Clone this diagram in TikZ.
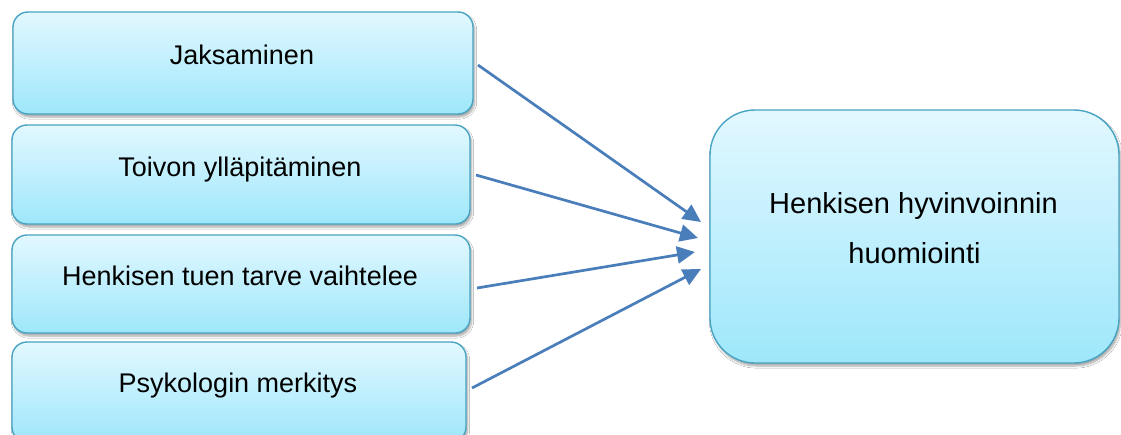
\documentclass[tikz,border=0pt]{standalone}
\usepackage{fontspec}
\setmainfont{Liberation Sans}
\usetikzlibrary{arrows.meta,calc,shadows.blur}
\definecolor{boxtop}{RGB}{226,248,255}
\definecolor{boxbot}{RGB}{158,231,251}
\definecolor{boxline}{RGB}{72,164,194}
\definecolor{arrowblue}{RGB}{74,126,187}
\tikzset{
  box/.style={draw=boxline, line width=1.4pt, top color=boxtop, bottom color=boxbot,
    inner sep=0pt, outer sep=0pt,
    blur shadow={shadow xshift=1.5pt, shadow yshift=-3pt, shadow blur steps=6, shadow opacity=35}},
  leftbox/.style={box, rounded corners=15pt},
  rightbox/.style={box, rounded corners=45pt},
  ltext/.style={anchor=base, inner sep=0pt, font=\fontsize{27}{31}\selectfont},
  rtext/.style={anchor=base, inner sep=0pt, font=\fontsize{29}{33}\selectfont},
  conn/.style={draw=arrowblue, line width=2.7pt, -{Triangle[length=18pt,width=17pt]}}
}
\begin{document}
\begin{tikzpicture}[x=1pt,y=-1pt]
\path[use as bounding box] (0,0) rectangle (1121,434);
\clip (0,0) rectangle (1121,434);
\fill[white] (0,0) rectangle (1121,434);
% left boxes
\node[leftbox, minimum width=460pt, minimum height=102pt] (b1) at (243,63) {};
\node[leftbox, minimum width=458pt, minimum height=99pt] (b2) at (241,174.5) {};
\node[leftbox, minimum width=458pt, minimum height=98pt] (b3) at (241,284) {};
\node[leftbox, minimum width=454pt, minimum height=100pt] (b4) at (239,392) {};
% right box
\node[rightbox, minimum width=409pt, minimum height=253pt] (r) at (914.5,236.5) {};
% texts
\node[ltext] (t1) at ($(b1.center)+(-1,1)$) {Jaksaminen};
\node[ltext] (t2) at ($(b2.center)+(-1,1.5)$) {Toivon ylläpitäminen};
\node[ltext] (t3) at ($(b3.center)+(-1,1)$) {Henkisen tuen tarve vaihtelee};
\node[ltext] (t4) at ($(b4.center)+(-1,0)$) {Psykologin merkitys};
\node[rtext] (rt1) at ($(r.center)+(-1,-23.5)$) {Henkisen hyvinvoinnin};
\node[rtext] (rt2) at ($(r.center)+(0,26.5)$) {huomiointi};
% connectors
\coordinate (s1) at ($(b1.east)+(5,2)$);
\coordinate (e1) at ($(r.west)+(-9,-14.5)$);
\coordinate (s2) at ($(b2.east)+(6,0.5)$);
\coordinate (e2) at ($(r.west)+(-12,1.5)$);
\coordinate (s3) at ($(b3.east)+(7,4)$);
\coordinate (e3) at ($(r.west)+(-15,15.5)$);
\coordinate (s4) at ($(b4.east)+(6,-4)$);
\coordinate (e4) at ($(r.west)+(-9,32.5)$);
\draw[conn] (s1) -- (e1);
\draw[conn] (s2) -- (e2);
\draw[conn] (s3) -- (e3);
\draw[conn] (s4) -- (e4);
\end{tikzpicture}
\end{document}
